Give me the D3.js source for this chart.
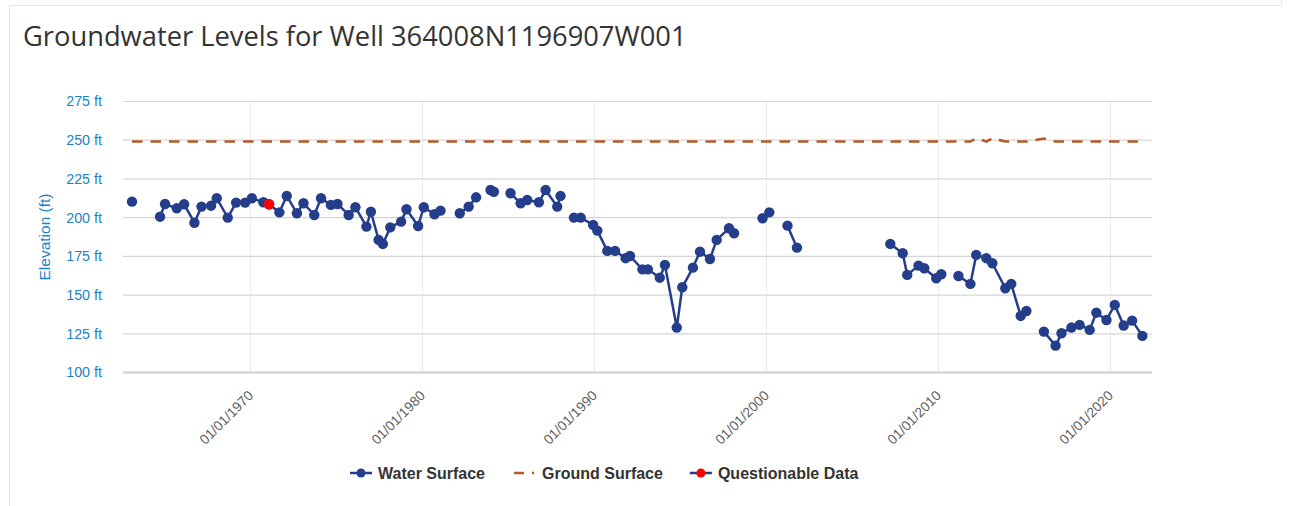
<!DOCTYPE html>
<html>
<head>
<meta charset="utf-8">
<script src="https://cdn.jsdelivr.net/npm/d3@7"></script>
<style>
  html, body { margin: 0; padding: 0; background: #ffffff; }
  svg { display: block; }
</style>
</head>
<body>
<svg id="chart" width="1293" height="506"></svg>
<script>
// Measurement dates; a null level marks a missing measurement (line break)
const measurementDates = [
  "1963-02-17", "1964-01-01",
  "1964-10-05", "1965-01-19", "1965-09-24", "1966-02-28", "1966-10-05", "1967-03-04",
  "1967-09-24", "1968-01-22", "1968-09-12", "1969-03-08", "1969-09-16", "1970-02-06",
  "1970-10-08", "1971-02-06", "1971-09-13", "1972-02-17", "1972-09-20", "1973-02-06",
  "1973-09-24", "1974-02-14", "1974-09-12", "1975-01-30", "1975-09-24", "1976-02-14",
  "1976-10-05", "1977-01-08", "1977-06-21", "1977-09-20", "1978-02-24", "1978-10-12",
  "1979-02-03", "1979-10-08", "1980-02-06", "1980-09-20", "1981-01-26", "1981-08-01",
  "1982-03-11", "1982-09-16", "1983-02-21", "1983-08-01",
  "1983-12-24", "1984-03-04", "1984-08-01",
  "1985-02-21", "1985-09-24", "1986-02-10", "1986-10-16", "1987-03-08", "1987-11-10",
  "1988-01-19", "1988-06-01",
  "1988-10-30", "1989-03-22", "1989-12-12", "1990-03-11", "1990-10-08", "1991-03-22",
  "1991-11-02", "1992-02-03", "1992-10-23", "1993-02-17", "1993-10-27", "1994-02-14",
  "1994-10-23", "1995-02-17", "1995-10-01", "1996-02-28", "1996-09-27", "1997-02-17",
  "1997-11-06", "1998-02-21", "1999-01-01",
  "1999-10-19", "2000-03-11", "2000-09-01",
  "2001-04-01", "2001-10-19", "2004-06-01",
  "2007-03-25", "2007-12-13", "2008-03-18", "2008-11-13", "2009-03-14", "2009-11-24",
  "2010-03-11", "2010-09-01",
  "2011-03-11", "2011-11-20", "2012-03-22", "2012-10-23", "2013-02-28", "2013-12-01",
  "2014-04-05", "2014-10-23", "2015-02-21", "2015-08-01",
  "2016-02-28", "2016-11-02", "2017-03-08", "2017-10-05", "2018-03-28", "2018-10-27",
  "2019-03-18", "2019-10-19", "2020-04-12", "2020-10-19", "2021-04-16", "2021-11-20"
];

// Water surface elevation (ft)
const waterSurface = [
  210.0, null,
  200.3, 208.5, 205.7, 208.3, 196.4, 206.8,
  207.4, 212.2, 199.7, 209.4, 209.4, 212.2,
  209.6, 208.3, 203.1, 213.7, 202.5, 209.0,
  201.4, 212.2, 207.9, 208.5, 201.4, 206.4,
  193.9, 203.5, 185.3, 182.7, 193.4, 197.1,
  205.1, 194.3, 206.4, 201.9, 204.2, null,
  202.5, 206.8, 212.8, null,
  217.5, 216.4, null,
  215.4, 209.0, 211.1, 209.6, 217.5, 206.8,
  213.7, null,
  199.7, 199.7, 195.0, 191.3, 178.2, 178.2,
  173.5, 174.9, 166.3, 166.3, 160.9, 169.1,
  128.7, 154.7, 167.4, 177.7, 173.0, 185.3,
  192.8, 189.6, null,
  199.3, 203.1, null,
  194.5, 180.3, null,
  182.7, 176.7, 162.7, 168.7, 167.0, 160.5,
  163.1, null,
  162.0, 156.9, 175.6, 173.5, 170.2, 154.1,
  156.9, 136.2, 139.4, null,
  126.1, 117.0, 125.0, 128.7, 130.4, 127.2,
  138.3, 133.6, 143.3, 130.0, 133.2, 123.3
];

// Ground surface elevation (ft)
const groundDates = [
  "1963-02-17", "2011-11-20", "2012-03-22", "2012-10-23", "2013-02-28",
  "2013-12-01", "2015-02-21", "2016-02-28", "2016-11-02", "2021-11-20"
];
const groundSurface = [248.8, 248.8, 251.0, 248.8, 251.0, 248.8, 248.8, 250.8, 248.8, 248.8];

// Measurements flagged as questionable
const questionableDates = ["1971-02-06"];
const questionableValues = [208.3];

// Axis ticks
const yTicks = [100, 125, 150, 175, 200, 225, 250, 275];
const xTickYears = [1970, 1980, 1990, 2000, 2010, 2020];

const legendLabels = ["Water Surface", "Ground Surface", "Questionable Data"];

const COLORS = { water: "#253e8b", ground: "#b5592a", questionable: "#ff0000" };

const parse = d3.utcParse("%Y-%m-%d");
const svg = d3.select("#chart");

// Frame around the chart container
svg.append("path")
  .attr("d", "M9.5,506 V5.5 H1281.5 V0")
  .attr("fill", "none")
  .attr("stroke", "#e3e3ea")
  .attr("stroke-width", 1);

svg.append("text")
  .attr("x", 23)
  .attr("y", 46)
  .attr("font-family", "'Open Sans', sans-serif")
  .attr("font-size", 27.3)
  .attr("fill", "#333333")
  .text("Groundwater Levels for Well 364008N1196907W001");

const x = d3.scaleUtc()
  .domain([Date.UTC(1962, 7, 10), Date.UTC(2022, 5, 12)])
  .range([123, 1152]);
const y = d3.scaleLinear().domain([100, 275]).range([372, 101]);

const plot = svg.append("g");

// Vertical grid lines at decades
const xTicks = xTickYears.map(yr => new Date(Date.UTC(yr, 0, 1)));
plot.append("g")
  .selectAll("line")
  .data(xTicks)
  .join("line")
  .attr("x1", d => Math.round(x(d)) + 0.5)
  .attr("x2", d => Math.round(x(d)) + 0.5)
  .attr("y1", 101)
  .attr("y2", 372)
  .attr("stroke", "#ebebeb")
  .attr("stroke-width", 1);

// Horizontal grid lines with y axis labels
const yAxis = d3.axisLeft(y)
  .tickValues(yTicks)
  .tickSize(-(1152 - 123))
  .tickPadding(21)
  .tickFormat(d => d + " ft");
const yg = plot.append("g").attr("transform", "translate(123,0)").call(yAxis);
yg.select(".domain").remove();
yg.selectAll(".tick line")
  .attr("stroke", "#d6d6d6")
  .attr("stroke-width", d => d === 100 ? 2.5 : 1.2);
yg.selectAll(".tick text")
  .attr("font-family", "'Liberation Sans', Arial, sans-serif")
  .attr("font-size", 14.3)
  .attr("fill", "#1b84c6")
  .attr("dy", "0.34em");

svg.append("text")
  .attr("transform", "translate(50,237) rotate(-90)")
  .attr("text-anchor", "middle")
  .attr("font-family", "'Liberation Sans', Arial, sans-serif")
  .attr("font-size", 15.5)
  .attr("fill", "#1b84c6")
  .text("Elevation (ft)");

// X axis labels (rotated dates)
const xAxis = d3.axisBottom(x)
  .tickValues(xTicks)
  .tickSize(0)
  .tickFormat(d3.utcFormat("%m/%d/%Y"));
const xg = plot.append("g").attr("transform", "translate(0,372)").call(xAxis);
xg.select(".domain").remove();
xg.selectAll(".tick text")
  .attr("font-family", "'Liberation Sans', Arial, sans-serif")
  .attr("font-size", 13.8)
  .attr("fill", "#606060")
  .attr("text-anchor", "end")
  .attr("transform", "translate(0,21) rotate(-45)")
  .attr("dy", "0.35em")
  .attr("y", 0);

// Ground surface dashed line
const groundData = groundDates.map((d, i) => ({ date: parse(d), value: groundSurface[i] }));
plot.append("path")
  .datum(groundData)
  .attr("fill", "none")
  .attr("stroke", COLORS.ground)
  .attr("stroke-width", 2.6)
  .attr("stroke-dasharray", "10.5,8")
  .attr("d", d3.line().x(d => x(d.date)).y(d => y(d.value)));

// Water surface line and markers
const waterData = measurementDates.map((d, i) => ({ date: parse(d), value: waterSurface[i] }));
plot.append("path")
  .datum(waterData)
  .attr("fill", "none")
  .attr("stroke", COLORS.water)
  .attr("stroke-width", 2.5)
  .attr("stroke-linejoin", "round")
  .attr("d", d3.line().defined(d => d.value != null).x(d => x(d.date)).y(d => y(d.value)));

plot.append("g")
  .selectAll("circle")
  .data(waterData.filter(d => d.value != null))
  .join("circle")
  .attr("cx", d => x(d.date))
  .attr("cy", d => y(d.value))
  .attr("r", 5.2)
  .attr("fill", COLORS.water);

const questionableData = questionableDates.map((d, i) => ({ date: parse(d), value: questionableValues[i] }));
plot.append("g")
  .selectAll("circle")
  .data(questionableData)
  .join("circle")
  .attr("cx", d => x(d.date))
  .attr("cy", d => y(d.value))
  .attr("r", 5.2)
  .attr("fill", COLORS.questionable);

// Legend
const legend = svg.append("g").attr("transform", "translate(0,473)");
let lx = 350;
legendLabels.forEach((label, i) => {
  const item = legend.append("g").attr("transform", `translate(${lx},0)`);
  if (i === 1) {
    item.append("line").attr("x1", 1).attr("x2", 11).attr("y1", 0).attr("y2", 0)
      .attr("stroke", COLORS.ground).attr("stroke-width", 2.5);
    item.append("line").attr("x1", 19).attr("x2", 21).attr("y1", 0).attr("y2", 0)
      .attr("stroke", COLORS.ground).attr("stroke-width", 2.5);
  } else {
    item.append("line").attr("x1", 0).attr("x2", 22).attr("y1", 0).attr("y2", 0)
      .attr("stroke", COLORS.water).attr("stroke-width", 2.5);
    item.append("circle").attr("cx", 11).attr("cy", 0).attr("r", 4.5)
      .attr("fill", i === 0 ? COLORS.water : COLORS.questionable);
  }
  const t = item.append("text")
    .attr("x", i === 1 ? 29 : 28)
    .attr("y", 0)
    .attr("dy", "0.35em")
    .attr("font-family", "'Liberation Sans', Arial, sans-serif")
    .attr("font-size", 16)
    .attr("font-weight", "bold")
    .attr("fill", "#333333")
    .text(label);
  lx += 28 + t.node().getComputedTextLength() + 28;
});
</script>
</body>
</html>
